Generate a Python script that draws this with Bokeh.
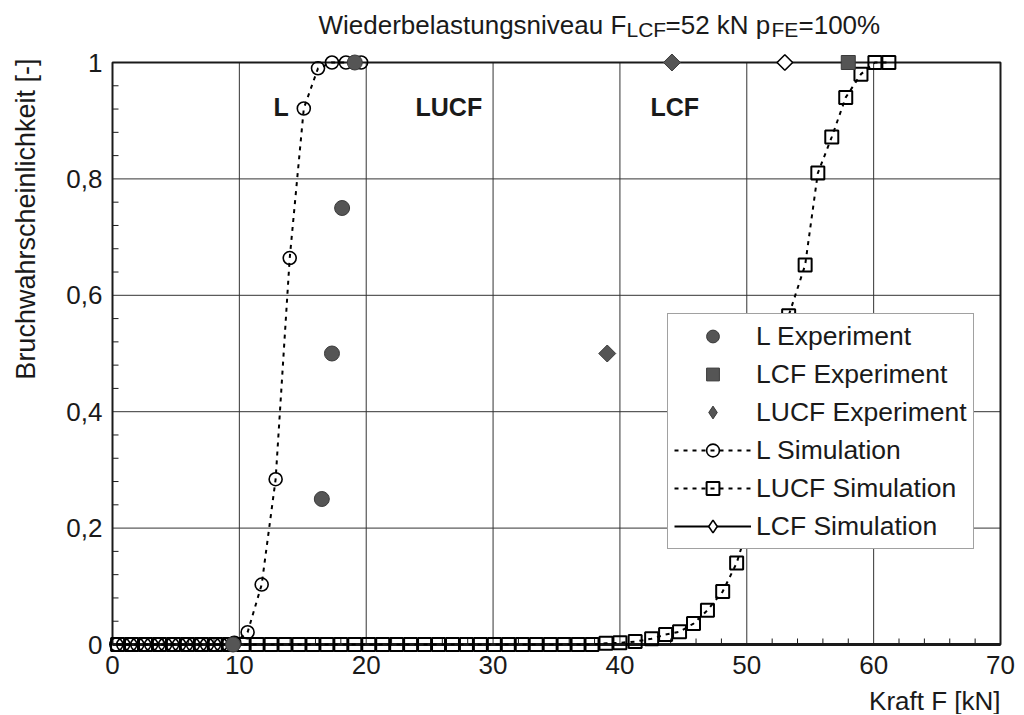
from bokeh.plotting import figure
from bokeh.models import Range1d, Legend, LegendItem, Label, FixedTicker
from bokeh.embed import file_html
from bokeh.resources import INLINE

# ---------------- data ----------------
l_exp_x = [9.5, 16.5, 17.3, 18.1, 19.1]
l_exp_y = [0.0, 0.25, 0.50, 0.75, 1.0]

lcf_exp_x = [58.0]
lcf_exp_y = [1.0]

lucf_exp_x = [39.0, 44.1]
lucf_exp_y = [0.50, 1.0]

l_sim_x = [0.3, 0.85, 1.4, 1.95, 2.5, 3.05, 3.6, 4.15, 4.7, 5.25, 5.8, 6.35,
           6.9, 7.45, 8.0, 8.55, 9.1, 9.6,
           10.65, 11.76, 12.86, 13.97, 15.08, 16.2, 17.3, 18.4, 19.6]
l_sim_y = [0.0, 0.0, 0.0, 0.0, 0.0, 0.0, 0.0, 0.0, 0.0, 0.0, 0.0, 0.0,
           0.0, 0.0, 0.0, 0.0, 0.0, 0.003,
           0.021, 0.103, 0.284, 0.664, 0.921, 0.99, 1.0, 1.0, 1.0]

lucf_sim_x = [0.4, 1.5, 2.6, 3.7, 4.8, 5.9, 7.0, 8.1, 9.2, 10.3, 11.4, 12.5,
              13.6, 14.7, 15.8, 16.9, 18.0, 19.1, 20.2, 21.3, 22.4, 23.5,
              24.6, 25.7, 26.8, 27.9, 29.0, 30.1, 31.2, 32.3, 33.4, 34.5,
              35.6, 36.7, 37.8, 38.9, 40.0, 41.2,
              42.5, 43.6, 44.7, 45.8, 46.9, 48.1, 49.2, 50.2, 51.3, 52.3,
              53.3, 54.6, 55.6, 56.7, 57.8, 59.0, 60.1, 61.2]
lucf_sim_y = [0.0, 0.0, 0.0, 0.0, 0.0, 0.0, 0.0, 0.0, 0.0, 0.0, 0.0, 0.0,
              0.0, 0.0, 0.0, 0.0, 0.0, 0.0, 0.0, 0.0, 0.0, 0.0,
              0.0, 0.0, 0.0, 0.0, 0.0, 0.0, 0.0, 0.0, 0.0, 0.0,
              0.0, 0.0, 0.0, 0.002, 0.003, 0.005,
              0.010, 0.017, 0.022, 0.036, 0.059, 0.091, 0.14, 0.21, 0.30, 0.43,
              0.565, 0.652, 0.81, 0.872, 0.94, 0.98, 1.0, 1.0]

lcf_sim_x = [53.0]
lcf_sim_y = [1.0]

x_ticks = [0, 10, 20, 30, 40, 50, 60, 70]
x_minor = [2, 4, 6, 8, 12, 14, 16, 18, 22, 24, 26, 28, 32, 34, 36, 38,
           42, 44, 46, 48, 52, 54, 56, 58, 62, 64, 66, 68]
y_ticks = [0, 0.2, 0.4, 0.6, 0.8, 1.0]
y_tick_labels = ["0", "0,2", "0,4", "0,6", "0,8", "1"]
y_minor = [0.04, 0.08, 0.12, 0.16, 0.24, 0.28, 0.32, 0.36, 0.44, 0.48, 0.52,
           0.56, 0.64, 0.68, 0.72, 0.76, 0.84, 0.88, 0.92, 0.96]

title_parts = ["Wiederbelastungsniveau F", "LCF", "=52 kN p", "FE", "=100%"]
region_labels = ["L", "LUCF", "LCF"]
x_title = "Kraft F [kN]"
y_title = "Bruchwahrscheinlichkeit [-]"

# ---------------- figure ----------------
FONT = "Liberation Sans"
INK = "#1a1a1a"
FILL = "#555555"

x0, x1 = x_ticks[0], x_ticks[-1]
y0, y1 = y_ticks[0], y_ticks[-1]
W, H = 1024, 714
# data box: x0 at px 112, x1 at px 1000; y1 at px 62, y0 at px 644
BX0, BX1, BY1, BY0 = 112.0, 1000.0, 62.0, 644.0
PXX = (BX1 - BX0) / (x1 - x0)
PXY = (BY0 - BY1) / (y1 - y0)

def dx(px):   # page px -> data x
    return x0 + (px - BX0) / PXX

def dy(py):   # page px -> data y
    return y0 + (BY0 - py) / PXY

# the frame covers the whole canvas; axes are pinned to the data box edges
p = figure(width=W, height=H, title=None,
           x_range=Range1d(dx(0), dx(W)), y_range=Range1d(dy(H), dy(0)),
           output_backend="svg", toolbar_location=None,
           min_border_left=0, min_border_right=0,
           min_border_top=0, min_border_bottom=0)
p.background_fill_color = "white"
p.border_fill_color = "white"
p.outline_line_color = None
p.xgrid.visible = False
p.ygrid.visible = False

p.xaxis.ticker = FixedTicker(ticks=x_ticks)
p.yaxis.ticker = FixedTicker(ticks=y_ticks)
p.yaxis.major_label_overrides = {t: s for t, s in zip(y_ticks, y_tick_labels)}
p.xaxis.fixed_location = y0
p.yaxis.fixed_location = x0
for ax in (p.xaxis, p.yaxis):
    ax.axis_line_color = None
    ax.major_tick_line_color = None
    ax.minor_tick_line_color = None
    ax.major_tick_in = 0
    ax.major_tick_out = 0
    ax.minor_tick_in = 0
    ax.minor_tick_out = 0
    ax.major_label_text_color = INK
    ax.major_label_text_font = FONT
    ax.major_label_text_font_size = "26px"
p.xaxis.major_label_standoff = 11
p.yaxis.major_label_standoff = 10

# ---------------- box, grid, minor ticks ----------------
gx = x_ticks[1:-1]
gy = y_ticks[1:-1]
p.segment(x0=gx, y0=[y0] * len(gx), x1=gx, y1=[y1] * len(gx),
          line_color="#333333", line_width=1)
p.segment(x0=[x0] * len(gy), y0=gy, x1=[x1] * len(gy), y1=gy,
          line_color="#333333", line_width=1)
p.segment(x0=[x0] * len(y_minor), y0=y_minor, x1=[x0 + 6 / PXX] * len(y_minor), y1=y_minor,
          line_color=INK, line_width=1)
p.segment(x0=x_minor, y0=[y0] * len(x_minor), x1=x_minor, y1=[y0 + 6 / PXY] * len(x_minor),
          line_color=INK, line_width=1)
p.quad(left=[x0], right=[x1], bottom=[y0], top=[y1], fill_color=None,
       line_color=INK, line_width=2)
p.segment(x0=[x0], y0=[y0], x1=[x1], y1=[y0], line_color=INK, line_width=3)

# ---------------- glyphs ----------------
DASH = "4 5"
l_sim_line = p.line(l_sim_x, l_sim_y, line_color="black", line_width=2, line_dash=DASH)
lucf_sim_line = p.line(lucf_sim_x, lucf_sim_y, line_color="black", line_width=2, line_dash=DASH)
lcf_sim_line = p.line(lcf_sim_x, lcf_sim_y, line_color="black", line_width=2)

lucf_sim_pts = p.scatter(lucf_sim_x, lucf_sim_y, marker="square", size=13,
                         fill_color=None, line_color="black", line_width=2)
l_sim_pts = p.scatter(l_sim_x, l_sim_y, marker="circle", size=13,
                      fill_color=None, line_color="black", line_width=1.6)

# diamond series: a "diamond" marker (used as legend swatch) lies under a
# rotated square that shows the true square-diamond shape in the plot
lcf_sim_key = p.scatter(lcf_sim_x, lcf_sim_y, marker="diamond", size=12,
                        fill_color="white", line_color="black", line_width=1.6)
lcf_sim_pts = p.scatter(lcf_sim_x, lcf_sim_y, marker="square", angle=0.785398, size=11,
                        fill_color="white", line_color="black", line_width=1.6)

l_exp = p.scatter(l_exp_x, l_exp_y, marker="circle", size=15,
                  fill_color=FILL, line_color="#3a3a3a", line_width=1)
lcf_exp = p.scatter(lcf_exp_x, lcf_exp_y, marker="square", size=14,
                    fill_color=FILL, line_color="#3a3a3a", line_width=1)
lucf_exp_key = p.scatter(lucf_exp_x, lucf_exp_y, marker="diamond", size=12,
                         fill_color=FILL, line_color="#3a3a3a", line_width=1)
lucf_exp = p.scatter(lucf_exp_x, lucf_exp_y, marker="square", angle=0.785398, size=12,
                     fill_color=FILL, line_color="#3a3a3a", line_width=1)

# ---------------- legend ----------------
legend = Legend(items=[
    LegendItem(label="L Experiment", renderers=[l_exp]),
    LegendItem(label="LCF Experiment", renderers=[lcf_exp]),
    LegendItem(label="LUCF Experiment", renderers=[lucf_exp_key]),
    LegendItem(label="L Simulation", renderers=[l_sim_line, l_sim_pts]),
    LegendItem(label="LUCF Simulation", renderers=[lucf_sim_line, lucf_sim_pts]),
    LegendItem(label="LCF Simulation", renderers=[lcf_sim_line, lcf_sim_key]),
], location=(667, H - 549))
legend.label_text_font = FONT
legend.label_text_font_size = "26.5px"
legend.label_text_color = INK
legend.glyph_width = 77
legend.glyph_height = 32
legend.label_height = 32
legend.label_standoff = 5
legend.spacing = 6
legend.padding = 6
legend.margin = 0
legend.border_line_color = "#444444"
legend.border_line_width = 1.5
legend.background_fill_color = "white"
legend.background_fill_alpha = 1.0
p.add_layout(legend)

# ---------------- texts ----------------
title_px = [318, 626, 665, 771, 798]
title_py = [24, 29, 24, 29, 24]
title_size = ["26px", "21px", "26px", "21px", "26px"]
for txt, tx, ty, ts in zip(title_parts, title_px, title_py, title_size):
    p.add_layout(Label(x=dx(tx), y=dy(ty), text=txt, text_font=FONT, text_font_size=ts,
                       text_color=INK, text_baseline="alphabetic", text_align="left"))

region_px = [273, 415, 650]
for txt, rx in zip(region_labels, region_px):
    p.add_layout(Label(x=dx(rx), y=dy(106), text=txt, text_font=FONT, text_font_size="25px",
                       text_font_style="bold", text_color=INK,
                       text_baseline="middle", text_align="left"))

p.add_layout(Label(x=dx(25), y=dy(58), text=y_title, angle=1.5708,
                   text_font=FONT, text_font_size="27px", text_color=INK,
                   text_baseline="middle", text_align="right"))
p.add_layout(Label(x=dx(1000), y=dy(700), text=x_title,
                   text_font=FONT, text_font_size="26px", text_color=INK,
                   text_baseline="middle", text_align="right"))

open("out.html", "w").write(file_html(p, INLINE))
